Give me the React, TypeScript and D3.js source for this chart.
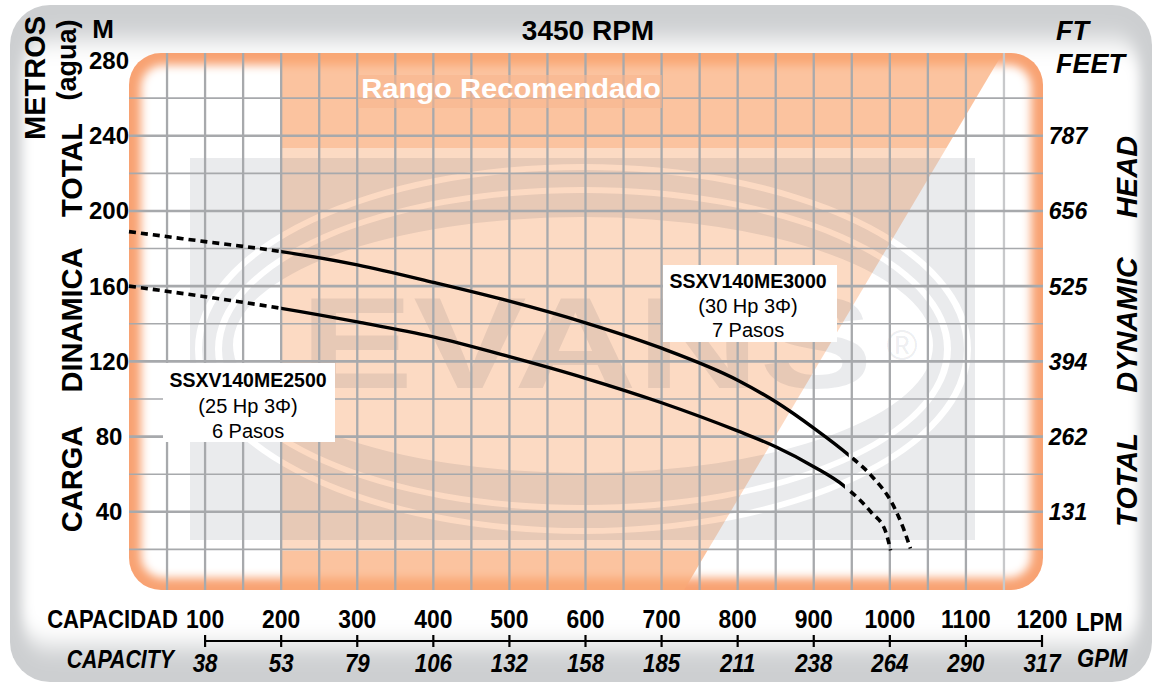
import React from 'react';
import * as d3 from 'd3';

// ---- data ----
const flowTicks = [100, 200, 300, 400, 500, 600, 700, 800, 900, 1000, 1100, 1200];
const gpmLabels = ['38', '53', '79', '106', '132', '158', '185', '211', '238', '264', '290', '317'];
const headTicks = [40, 80, 120, 160, 200, 240, 280];
const feetTicks = [40, 80, 120, 160, 200, 240];
const feetLabels = ['131', '262', '394', '525', '656', '787'];
const gridFlow = [50, 100, 150, 200, 250, 300, 350, 400, 450, 500, 550, 600, 650, 700, 750, 800, 850, 900, 950, 1000, 1050, 1100, 1150];
const gridHead = [20, 40, 60, 80, 100, 120, 140, 160, 180, 200, 220, 240, 260];

// SSXV140ME3000 (30 Hp 3Φ, 7 Pasos)
const flow3000 = [0, 100, 200, 300, 400, 500, 600, 700, 800, 850, 900, 945, 975, 1005, 1018, 1027];
const head3000 = [189, 183.7, 178.4, 171.3, 162, 152, 140.5, 127, 110, 98.5, 84.5, 70.5, 59.5, 43, 31, 20.5];
const solid3000 = [200, 946];

// SSXV140ME2500 (25 Hp 3Φ, 6 Pasos)
const flow2500 = [0, 100, 200, 300, 400, 500, 600, 700, 800, 850, 900, 941, 976, 994, 1001];
const head2500 = [160, 154.4, 148.2, 141, 133, 122.5, 111, 98, 83, 74.6, 64, 53.4, 39.5, 30, 19.5];
const solid2500 = [200, 941];

// recommended range: left edge flow, diagonal top / bottom flow
const recommended = [200, 1150, 728];

const FONT = "'Liberation Sans', Arial, Helvetica, sans-serif";
const W = 1165;
const H = 684;

const x = d3.scaleLinear().domain([0, 1200]).range([129, 1042]);
const y = d3.scaleLinear().domain([0, 284]).range([587, 53]);
const P = { x0: 129, y0: 53, x1: 1043, y1: 590, r: 32 };

const line = d3
  .line<[number, number]>()
  .x((d) => x(d[0]))
  .y((d) => y(d[1]))
  .curve(d3.curveMonotoneX);

const T = ({ x: tx, y: ty, size, sx = 1, anchor = 'middle', italic = false, weight = 700, rotate = 0, fill = '#000', children }: any) => (
  <text
    transform={`translate(${tx},${ty})${rotate ? ` rotate(${rotate})` : ''}${sx !== 1 ? ` scale(${sx},1)` : ''}`}
    fontSize={size}
    fontWeight={weight}
    fontStyle={italic ? 'italic' : 'normal'}
    textAnchor={anchor}
    fill={fill}
    fontFamily={FONT}
  >
    {children}
  </text>
);

const ell = (cx: number, cy: number, rx: number, ry: number) =>
  `M${cx - rx},${cy} A${rx},${ry} 0 1,0 ${cx + rx},${cy} A${rx},${ry} 0 1,0 ${cx - rx},${cy} Z`;

const Curve = ({ id, flow, head, solid }: { id: string; flow: number[]; head: number[]; solid: number[] }) => {
  const pts = flow.map((f, i) => [f, head[i]] as [number, number]);
  const d = line(pts) || '';
  return (
    <g>
      <clipPath id={`${id}-solid`}>
        <rect x={x(solid[0])} y={0} width={x(solid[1]) - x(solid[0])} height={H} />
      </clipPath>
      <clipPath id={`${id}-dash`}>
        <rect x={0} y={0} width={x(solid[0])} height={H} />
        <rect x={x(solid[1]) + 3} y={0} width={W} height={H} />
      </clipPath>
      <path d={d} fill="none" stroke="#000" strokeWidth={3.4} clipPath={`url(#${id}-solid)`} />
      <path d={d} fill="none" stroke="#000" strokeWidth={3.6} strokeDasharray="7,5" clipPath={`url(#${id}-dash)`} />
    </g>
  );
};

export default function App() {
  const [recL, recTop, recBot] = recommended;
  const recPoly = `M${x(recL)},${P.y0 - 2} L${x(recTop)},${P.y0 - 2} L${x(recBot)},${P.y1 + 2} L${x(recL)},${P.y1 + 2} Z`;
  const gray = '#0a1a33';
  const wm =
    `M190,158 H975 V540 H190 Z ` +
    ell(583, 349, 388, 185) +
    ell(583, 349, 381, 179) +
    ell(583, 349, 368, 162) +
    ell(583, 349, 361, 156) +
    ell(583, 345, 350, 128);

  return (
    <svg width={W} height={H} style={{ position: 'absolute', left: 0, top: 0, display: 'block', background: '#fff' }}>
      <defs>
        <clipPath id="frameClip">
          <rect x={10} y={5} width={1142} height={677} rx={40} />
        </clipPath>
        <clipPath id="plotClip">
          <rect x={P.x0} y={P.y0} width={P.x1 - P.x0} height={P.y1 - P.y0} rx={P.r} />
        </clipPath>
        <filter id="frameGlow" x="-10%" y="-10%" width="120%" height="120%">
          <feGaussianBlur stdDeviation="6 12" />
        </filter>
        <filter id="plotGlow" x="-10%" y="-10%" width="120%" height="120%">
          <feGaussianBlur stdDeviation="5" />
        </filter>
      </defs>

      {/* outer frame */}
      <rect x={10} y={5} width={1142} height={677} rx={40} fill="#cdcfd1" />
      <g clipPath="url(#frameClip)">
        <rect x={22} y={40} width={1118} height={606} rx={28} fill="#fff" filter="url(#frameGlow)" />
      </g>

      {/* plot background with orange inner glow */}
      <rect x={P.x0} y={P.y0} width={P.x1 - P.x0} height={P.y1 - P.y0} rx={P.r} fill="#f8a272" />
      <g clipPath="url(#plotClip)">
        <rect x={141} y={65} width={890} height={513} rx={22} fill="#fff" filter="url(#plotGlow)" />
        {/* recommended range */}
        <path d={recPoly} fill="#f9a976" fillOpacity={0.7} />
        {/* watermark */}
        <rect x={190} y={148} width={785} height={403} fill="#fff" fillOpacity={0.38} />
        <path d={wm} fill={gray} fillOpacity={0.085} fillRule="evenodd" />
        <text
          x={300}
          y={388}
          fontSize={130}
          fontWeight={700}
          fontFamily={FONT}
          textLength={573}
          lengthAdjust="spacingAndGlyphs"
          fill={gray}
          fillOpacity={0.085}
        >
          EVANS
        </text>
        <text x={902} y={360} fontSize={42} fontFamily={FONT} textAnchor="middle" fill={gray} fillOpacity={0.085}>
          ®
        </text>

        {/* grid */}
        {gridFlow.map((f) => (
          <line key={`v${f}`} x1={x(f)} x2={x(f)} y1={P.y0} y2={P.y1} stroke={f === 1150 ? '#c8c9cb' : '#a7a9ac'} strokeWidth={2.3} />
        ))}
        {gridHead.map((h) => (
          <line
            key={`h${h}`}
            x1={P.x0}
            x2={P.x1}
            y1={y(h)}
            y2={y(h)}
            stroke="#a7a9ac"
            strokeWidth={h % 40 === 0 ? 2.6 : 1.6}
          />
        ))}
      </g>

      {/* Rango Recomendado */}
      <rect x={358} y={75} width={304} height={33} fill="#f8b68f" fillOpacity={0.6} />
      <T x={511} y={98} size={27} sx={1.08} fill="#fff">Rango Recomendado</T>

      {/* model boxes */}
      <rect x={163} y={363} width={172} height={79} fill="#fff" />
      <T x={248} y={387} size={19.5}>SSXV140ME2500</T>
      <T x={248} y={413} size={20} weight={400}>(25 Hp 3Φ)</T>
      <T x={248} y={438} size={20} weight={400}>6 Pasos</T>

      <rect x={663} y={265} width={174} height={77} fill="#fff" />
      <T x={748} y={288} size={19.5}>SSXV140ME3000</T>
      <T x={748} y={313} size={20} weight={400}>(30 Hp 3Φ)</T>
      <T x={748} y={337} size={20} weight={400}>7 Pasos</T>

      {/* curves */}
      <Curve id="c3000" flow={flow3000} head={head3000} solid={solid3000} />
      <Curve id="c2500" flow={flow2500} head={head2500} solid={solid2500} />

      {/* title */}
      <T x={588} y={40} size={28}>3450 RPM</T>

      {/* left axis */}
      <T x={103} y={38} size={26}>M</T>
      <T x={45} y={78} size={29} rotate={-90}>METROS</T>
      <T x={76} y={60} size={27} rotate={-90}>(agua)</T>
      <T x={82} y={170} size={29} rotate={-90}>TOTAL</T>
      <T x={82} y={320} size={29} rotate={-90}>DINAMICA</T>
      <T x={82} y={479} size={29} rotate={-90}>CARGA</T>
      {headTicks.map((h) => (
        <T key={`l${h}`} x={109} y={y(h) + 8.5} size={24}>
          {h}
        </T>
      ))}

      {/* right axis */}
      <T x={1056} y={40} size={27} italic anchor="start">FT</T>
      <T x={1056} y={73} size={27} italic anchor="start">FEET</T>
      {feetTicks.map((h, i) => (
        <T key={`r${h}`} x={1068} y={y(h) + 8.5} size={23} italic>
          {feetLabels[i]}
        </T>
      ))}
      <T x={1137} y={177} size={29} rotate={-90} italic>HEAD</T>
      <T x={1137} y={325} size={29} rotate={-90} italic>DYNAMIC</T>
      <T x={1137} y={480} size={29} rotate={-90} italic>TOTAL</T>

      {/* bottom axis LPM */}
      <T x={178} y={628} size={26} sx={0.85} anchor="end">CAPACIDAD</T>
      {flowTicks.map((f) => (
        <T key={`b${f}`} x={x(f)} y={628} size={26} sx={0.88}>
          {f}
        </T>
      ))}
      <T x={1076} y={631} size={26} sx={0.85} anchor="start">LPM</T>

      {/* bottom axis GPM */}
      <line x1={x(100)} x2={x(1200)} y1={641} y2={641} stroke="#000" strokeWidth={2.2} />
      {flowTicks.map((f) => (
        <line key={`t${f}`} x1={x(f)} x2={x(f)} y1={635} y2={647} stroke="#000" strokeWidth={2.2} />
      ))}
      <T x={174} y={668} size={26} sx={0.82} italic anchor="end">CAPACITY</T>
      {flowTicks.map((f, i) => (
        <T key={`g${f}`} x={x(f)} y={672} size={25} sx={0.89} italic>
          {gpmLabels[i]}
        </T>
      ))}
      <T x={1077} y={667} size={26} sx={0.85} italic anchor="start">GPM</T>
    </svg>
  );
}
